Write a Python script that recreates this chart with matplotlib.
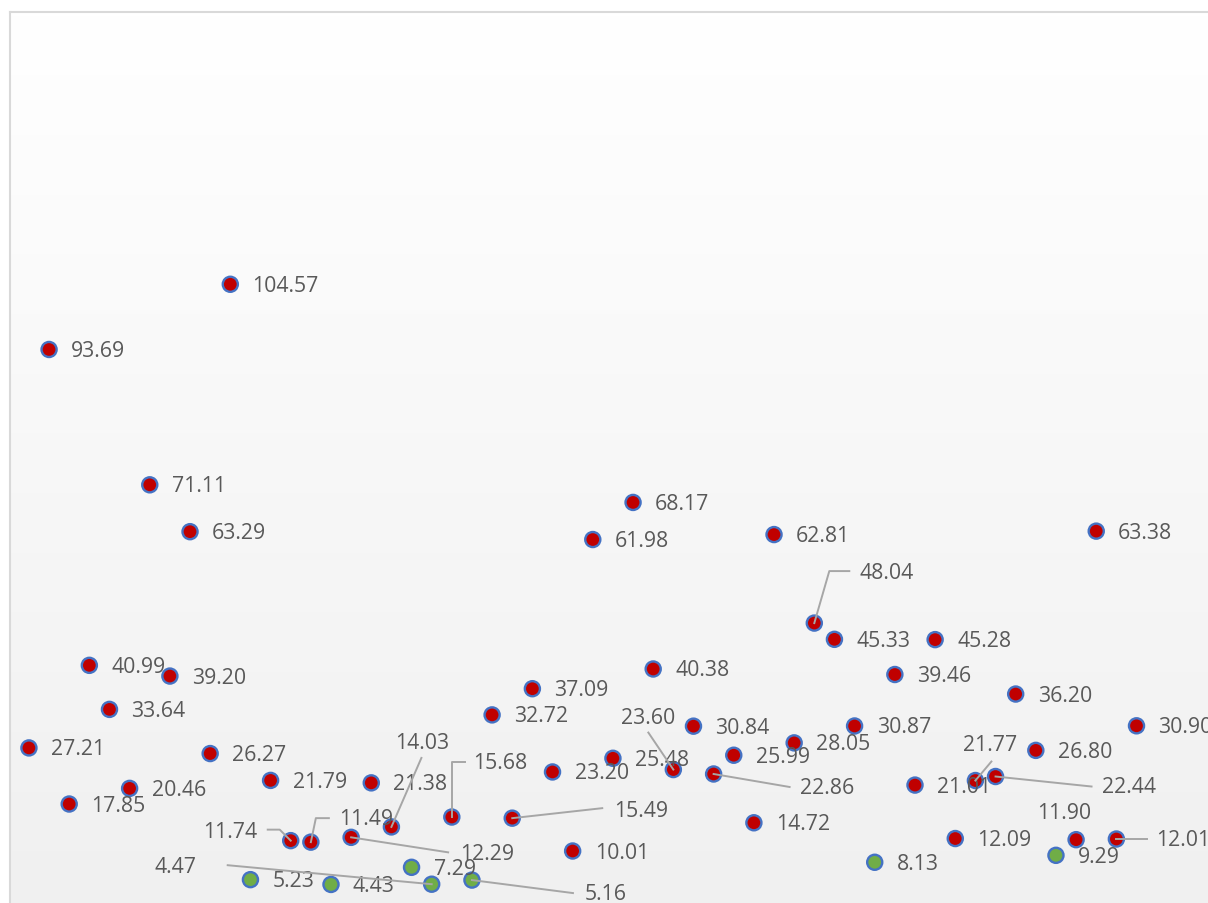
import matplotlib
matplotlib.use("Agg")
import matplotlib.pyplot as plt
import numpy as np
from matplotlib.transforms import IdentityTransform

# values in order along the x axis (1..56)
values = [27.21, 93.69, 17.85, 40.99, 33.64, 20.46, 71.11, 39.20, 63.29, 26.27,
          104.57, 5.23, 21.79, 11.74, 11.49, 4.43, 12.29, 21.38, 14.03, 7.29,
          4.47, 15.68, 5.16, 32.72, 15.49, 37.09, 23.20, 10.01, 61.98, 25.48,
          68.17, 40.38, 23.60, 30.84, 22.86, 25.99, 14.72, 62.81, 28.05, 48.04,
          45.33, 30.87, 8.13, 39.46, 21.01, 45.28, 12.09, 21.77, 22.44, 36.20,
          26.80, 9.29, 11.90, 63.38, 12.01, 30.90]
# points belonging to the green series (1-based positions)
green_idx = [12, 16, 20, 21, 23, 43, 52]

RED = "#c00000"
GREEN = "#70ad47"
EDGE = "#4472c4"
TXT = "#595959"
LEAD = "#a6a6a6"

# label offsets in pixels (dx, dy image-down, ha) and leader polylines
label_pos = {
    14: (-33, -9, "right"),
    15: (28, -24, "left"),
    17: (109, 16, "left"),
    19: (4, -84, "left"),
    21: (-235, -18, "right"),
    22: (21, -55, "left"),
    23: (113, 13, "left"),
    25: (102, -8, "left"),
    33: (-52, -52, "left"),
    35: (86, 14, "left"),
    40: (45, -51, "left"),
    48: (-12, -36, "left"),
    49: (106, 10, "left"),
    53: (-39, -27, "left"),
    55: (40, 0, "left"),
}
leaders = {
    14: [(-23, -11), (-11, -11), (0, 0)],
    15: [(18, -24), (5, -24), (0, 0)],
    17: [(97, 15), (0, 0)],
    19: [(30, -69), (0, 0)],
    21: [(-204, -19), (0, 0)],
    22: [(13, -55), (0, -55), (0, 0)],
    23: [(101, 13), (0, 0)],
    25: [(90, -10), (0, 0)],
    33: [(-25, -37), (0, 0)],
    35: [(76, 13), (0, 0)],
    40: [(35, -52), (15, -52), (0, 0)],
    48: [(16, -19), (0, 0)],
    49: [(96, 10), (0, 0)],
    55: [(31, 0), (0, 0)],
}

fig = plt.figure(figsize=(12.08, 9.04), dpi=100)
W, H = 1208, 904
left_px, top_px, bottom_px = 10, 13, 912
ax = fig.add_axes([left_px / W, (H - bottom_px) / H,
                   (W - left_px) / W, (bottom_px - top_px) / H])

x = np.arange(1, len(values) + 1)
v = np.array(values)
is_green = np.isin(x, green_idx)
cols = np.where(is_green, GREEN, RED)

ax.set_xlim(0.06, 59.55)
ax.set_ylim(0, 150)

# gradient background of plot area
grad = np.linspace(0, 1, 256).reshape(-1, 1)
top_c = np.array([1.0, 1.0, 1.0])
bot_c = np.array([0xf0, 0xf0, 0xf0]) / 255
img = top_c * (1 - grad[..., None]) + bot_c * grad[..., None]
img = img.reshape(256, 1, 3)
ax.imshow(img, extent=(0, 1, 0, 1), transform=ax.transAxes, aspect="auto", zorder=0)

ax.scatter(x, v, s=118, c=cols, edgecolors=EDGE, linewidths=1.7, zorder=3)

for i, (xi, vi) in enumerate(zip(x, v)):
    dx, dy, ha = label_pos.get(int(xi), (22, 1, "left"))
    ax.annotate(f"{vi:.2f}", xy=(xi, vi), xytext=(dx, -dy), textcoords="offset pixels",
                ha=ha, va="center", fontsize=15.3, color=TXT, family="Open Sans", zorder=5)

fig.canvas.draw()
for k, pts in leaders.items():
    px, py = ax.transData.transform((k, values[k - 1]))
    xs = [px + a for a, b in pts]
    ys = [py - b for a, b in pts]
    fig.add_artist(plt.Line2D(xs, ys, transform=IdentityTransform(), color=LEAD,
                              lw=1.4, zorder=6))

ax.set_xticks([])
ax.set_yticks([])
for s in ["bottom", "right"]:
    ax.spines[s].set_visible(False)
for s in ["top", "left"]:
    ax.spines[s].set_color("#d9d9d9")
    ax.spines[s].set_linewidth(1.5)

fig.savefig("out.png", dpi=100)
